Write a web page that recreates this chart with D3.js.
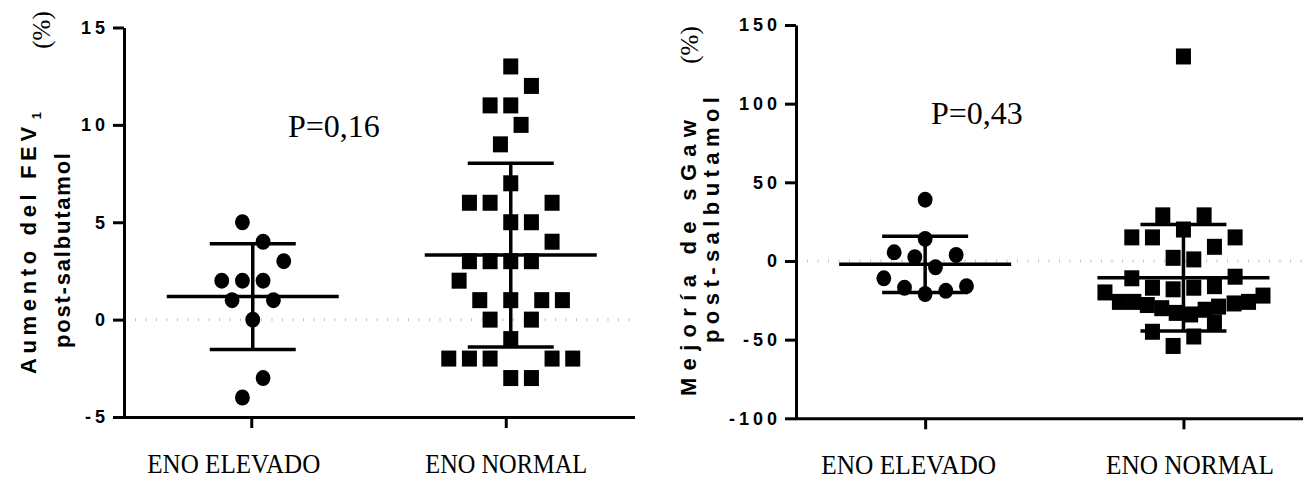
<!DOCTYPE html>
<html>
<head>
<meta charset="utf-8">
<script src="https://cdn.jsdelivr.net/npm/d3@7"></script>
<style>
  html, body { margin: 0; padding: 0; background: #fff; }
  svg { display: block; }
</style>
</head>
<body>
<svg id="chart" width="1303" height="479"></svg>
<script>
// --- data ---
const categories = ["ENO ELEVADO", "ENO NORMAL"];

// FEV1 increase (%)
const fevElevado = [5, 4, 3, 2, 2, 2, 1, 1, 0, -3, -4];
const fevElevadoCol = [-1, 1, 3, -3, -1, 1, -2, 2, 0, 1, -1];
const fevNormal = [13, 12, 11, 11, 10, 9, 7, 6, 6, 6, 5, 5, 4, 3, 3, 3, 3, 2, 1, 1, 1, 1, 0, 0, -1, -2, -2, -2, -2, -2, -3, -3];
const fevNormalCol = [0, 2, -2, 0, 1, -1, 0, -4, -2, 4, 0, 2, 4, -4, -2, 0, 2, -5, -3, 0, 3, 5, -2, 2, 0, -6, -4, -2, 4, 6, 0, 2];
const fevTicks = [-5, 0, 5, 10, 15];

// sGaw improvement (%)
const sgawElevado = [39, 14, 5.5, 2.4, 3.8, -4, -11, -17, -21, -19, -16];
const sgawElevadoCol = [0, 0, -3, -1, 3, 1, -4, -2, 0, 2, 4];
const sgawNormal = [130, 29, 29, 20, 15, 15, 15, 9, 2, 1, -10, -11, -16, -17, -17, -18, -20, -22, -26, -26, -26, -27, -28, -29, -30, -31, -33, -34, -39, -45, -48, -54];
const sgawNormalCol = [0, -2, 2, 0, -5, -3, 5, 3, -1, 1, 5, -5, 3, -3, 1, -1, -7.6, 7.7, -6.2, -4.8, 6.3, 4.9, -3.5, 3.4, -2.1, 2.1, -0.7, 0.7, 3, -3, 1, -1];
const sgawTicks = [-100, -50, 0, 50, 100, 150];

const pLabels = ["P=0,16", "P=0,43"];

const svg = d3.select("#chart");
const COL_STEP = 10.33;   // horizontal spacing of scatter columns
const MEAN_HALF = 86;     // half width of mean line
const CAP_HALF = 43;      // half width of SD caps
const SANS = "'Liberation Sans', Arial, sans-serif";
const SERIF = "'Liberation Serif', 'Times New Roman', serif";

function drawPanel(cfg) {
  const g = svg.append("g");

  const x = d3.scalePoint().domain(categories).range(cfg.xRange).padding(0.5);
  const y = d3.scaleLinear().domain(cfg.yDomain).range(cfg.yRange);

  // dotted zero line
  g.append("line")
    .attr("x1", cfg.xRange[0] + 11).attr("x2", cfg.xRange[1])
    .attr("y1", y(0)).attr("y2", y(0))
    .attr("stroke", "#c4c4c4").attr("stroke-width", 3)
    .attr("stroke-dasharray", "1,9.5");

  // y axis
  const yAxis = g.append("g")
    .attr("transform", `translate(${cfg.xRange[0]},0)`)
    .call(d3.axisLeft(y).tickValues(cfg.ticks).tickFormat(d => String(d))
      .tickSize(11).tickSizeOuter(0).tickPadding(8));
  yAxis.select(".domain").attr("stroke", "#000").attr("stroke-width", 3);
  yAxis.selectAll(".tick line").attr("stroke", "#000").attr("stroke-width", 3);
  yAxis.selectAll(".tick text")
    .attr("fill", "#000")
    .style("font-family", SANS)
    .style("font-weight", "bold")
    .style("font-size", "18px")
    .style("letter-spacing", "4px")
    .attr("dx", 4);

  // x axis
  const xAxis = g.append("g")
    .attr("transform", `translate(0,${cfg.yRange[0]})`)
    .call(d3.axisBottom(x).tickSize(11).tickSizeOuter(0));
  xAxis.select(".domain").attr("stroke", "#000").attr("stroke-width", 3)
    .attr("stroke-linecap", "square");
  xAxis.selectAll(".tick line").attr("stroke", "#000").attr("stroke-width", 3);
  xAxis.selectAll(".tick text")
    .attr("fill", "#000")
    .style("font-family", SERIF)
    .style("font-size", "27px")
    .attr("y", 56).attr("dy", 0)
    .attr("dx", (d, i) => cfg.labelShift[i])
    .attr("textLength", (d, i) => cfg.labelLen[i])
    .attr("lengthAdjust", "spacingAndGlyphs");

  // points, mean and SD
  cfg.groups.forEach((grp, gi) => {
    const cx = x(categories[gi]) + grp.shift;
    const pts = grp.values.map((v, i) => ({ v, c: grp.cols[i] }));
    if (grp.shape === "circle") {
      g.selectAll(null).data(pts).enter().append("ellipse")
        .attr("cx", d => cx + d.c * COL_STEP)
        .attr("cy", d => y(d.v))
        .attr("rx", 7.4).attr("ry", 8)
        .attr("fill", "#000");
    } else {
      g.selectAll(null).data(pts).enter().append("rect")
        .attr("x", d => cx + d.c * COL_STEP - 7.5)
        .attr("y", d => y(d.v) - 8)
        .attr("width", 15).attr("height", 16)
        .attr("fill", "#000");
    }

    const m = d3.mean(grp.values);
    const sd = d3.deviation(grp.values);
    const ln = (x1, y1, x2, y2) => g.append("line")
      .attr("x1", x1).attr("y1", y1).attr("x2", x2).attr("y2", y2)
      .attr("stroke", "#000").attr("stroke-width", 3.5);
    ln(cx, y(m - sd), cx, y(m + sd));
    ln(cx - MEAN_HALF, y(m), cx + MEAN_HALF, y(m));
    ln(cx - CAP_HALF, y(m + sd), cx + CAP_HALF, y(m + sd));
    ln(cx - CAP_HALF, y(m - sd), cx + CAP_HALF, y(m - sd));
  });

  // p value
  g.append("text")
    .attr("x", cfg.pPos[0]).attr("y", cfg.pPos[1])
    .style("font-family", SERIF)
    .style("font-size", "32px")
    .attr("fill", "#000")
    .text(cfg.pText);

  // y title (rotated)
  const t1 = g.append("text")
    .attr("transform", `translate(${cfg.title1[0]},${cfg.title1[1]}) rotate(-90)`)
    .style("font-family", SANS)
    .style("font-weight", "bold").style("font-size", "22px")
    .attr("textLength", cfg.title1[2]).attr("lengthAdjust", "spacing")
    .attr("fill", "#000");
  t1.append("tspan").text(cfg.titleText[0]);
  if (cfg.titleText[1]) {
    t1.append("tspan").style("font-size", "13px").attr("dx", 3).attr("dy", 5).text(cfg.titleText[1]);
  }
  g.append("text")
    .attr("transform", `translate(${cfg.pct[0]},${cfg.pct[1]}) rotate(-90)`)
    .attr("text-anchor", "middle")
    .style("font-family", SERIF)
    .style("font-size", "25px").attr("fill", "#000")
    .text("(%)");
  g.append("text")
    .attr("transform", `translate(${cfg.title2[0]},${cfg.title2[1]}) rotate(-90)`)
    .style("font-family", SANS)
    .style("font-weight", "bold").style("font-size", "22px")
    .attr("textLength", cfg.title2[2]).attr("lengthAdjust", "spacing")
    .attr("fill", "#000")
    .text("post-salbutamol");
}

drawPanel({
  xRange: [124, 633],
  yRange: [417, 27.5],
  yDomain: [-5, 15],
  ticks: fevTicks,
  groups: [
    { values: fevElevado, cols: fevElevadoCol, shape: "circle", shift: 1.5 },
    { values: fevNormal, cols: fevNormalCol, shape: "square", shift: 5 }
  ],
  labelShift: [-18, 0],
  labelLen: [173, 162],
  pText: pLabels[0],
  pPos: [288, 137],
  titleText: ["Aumento del FEV", "1"],
  title1: [36, 374, 262],
  pct: [50, 30],
  title2: [70, 348, 195]
});

drawPanel({
  xRange: [796, 1312.6],
  yRange: [418.3, 25],
  yDomain: [-100, 150],
  ticks: sgawTicks,
  groups: [
    { values: sgawElevado, cols: sgawElevadoCol, shape: "circle", shift: 0 },
    { values: sgawNormal, cols: sgawNormalCol, shape: "square", shift: 0 }
  ],
  labelShift: [-17, 6],
  labelLen: [175, 168],
  pText: pLabels[1],
  pPos: [931, 124],
  titleText: ["Mejoría de sGaw", ""],
  title1: [696, 396, 276],
  pct: [698, 45],
  title2: [719, 343, 246]
});
</script>
</body>
</html>
